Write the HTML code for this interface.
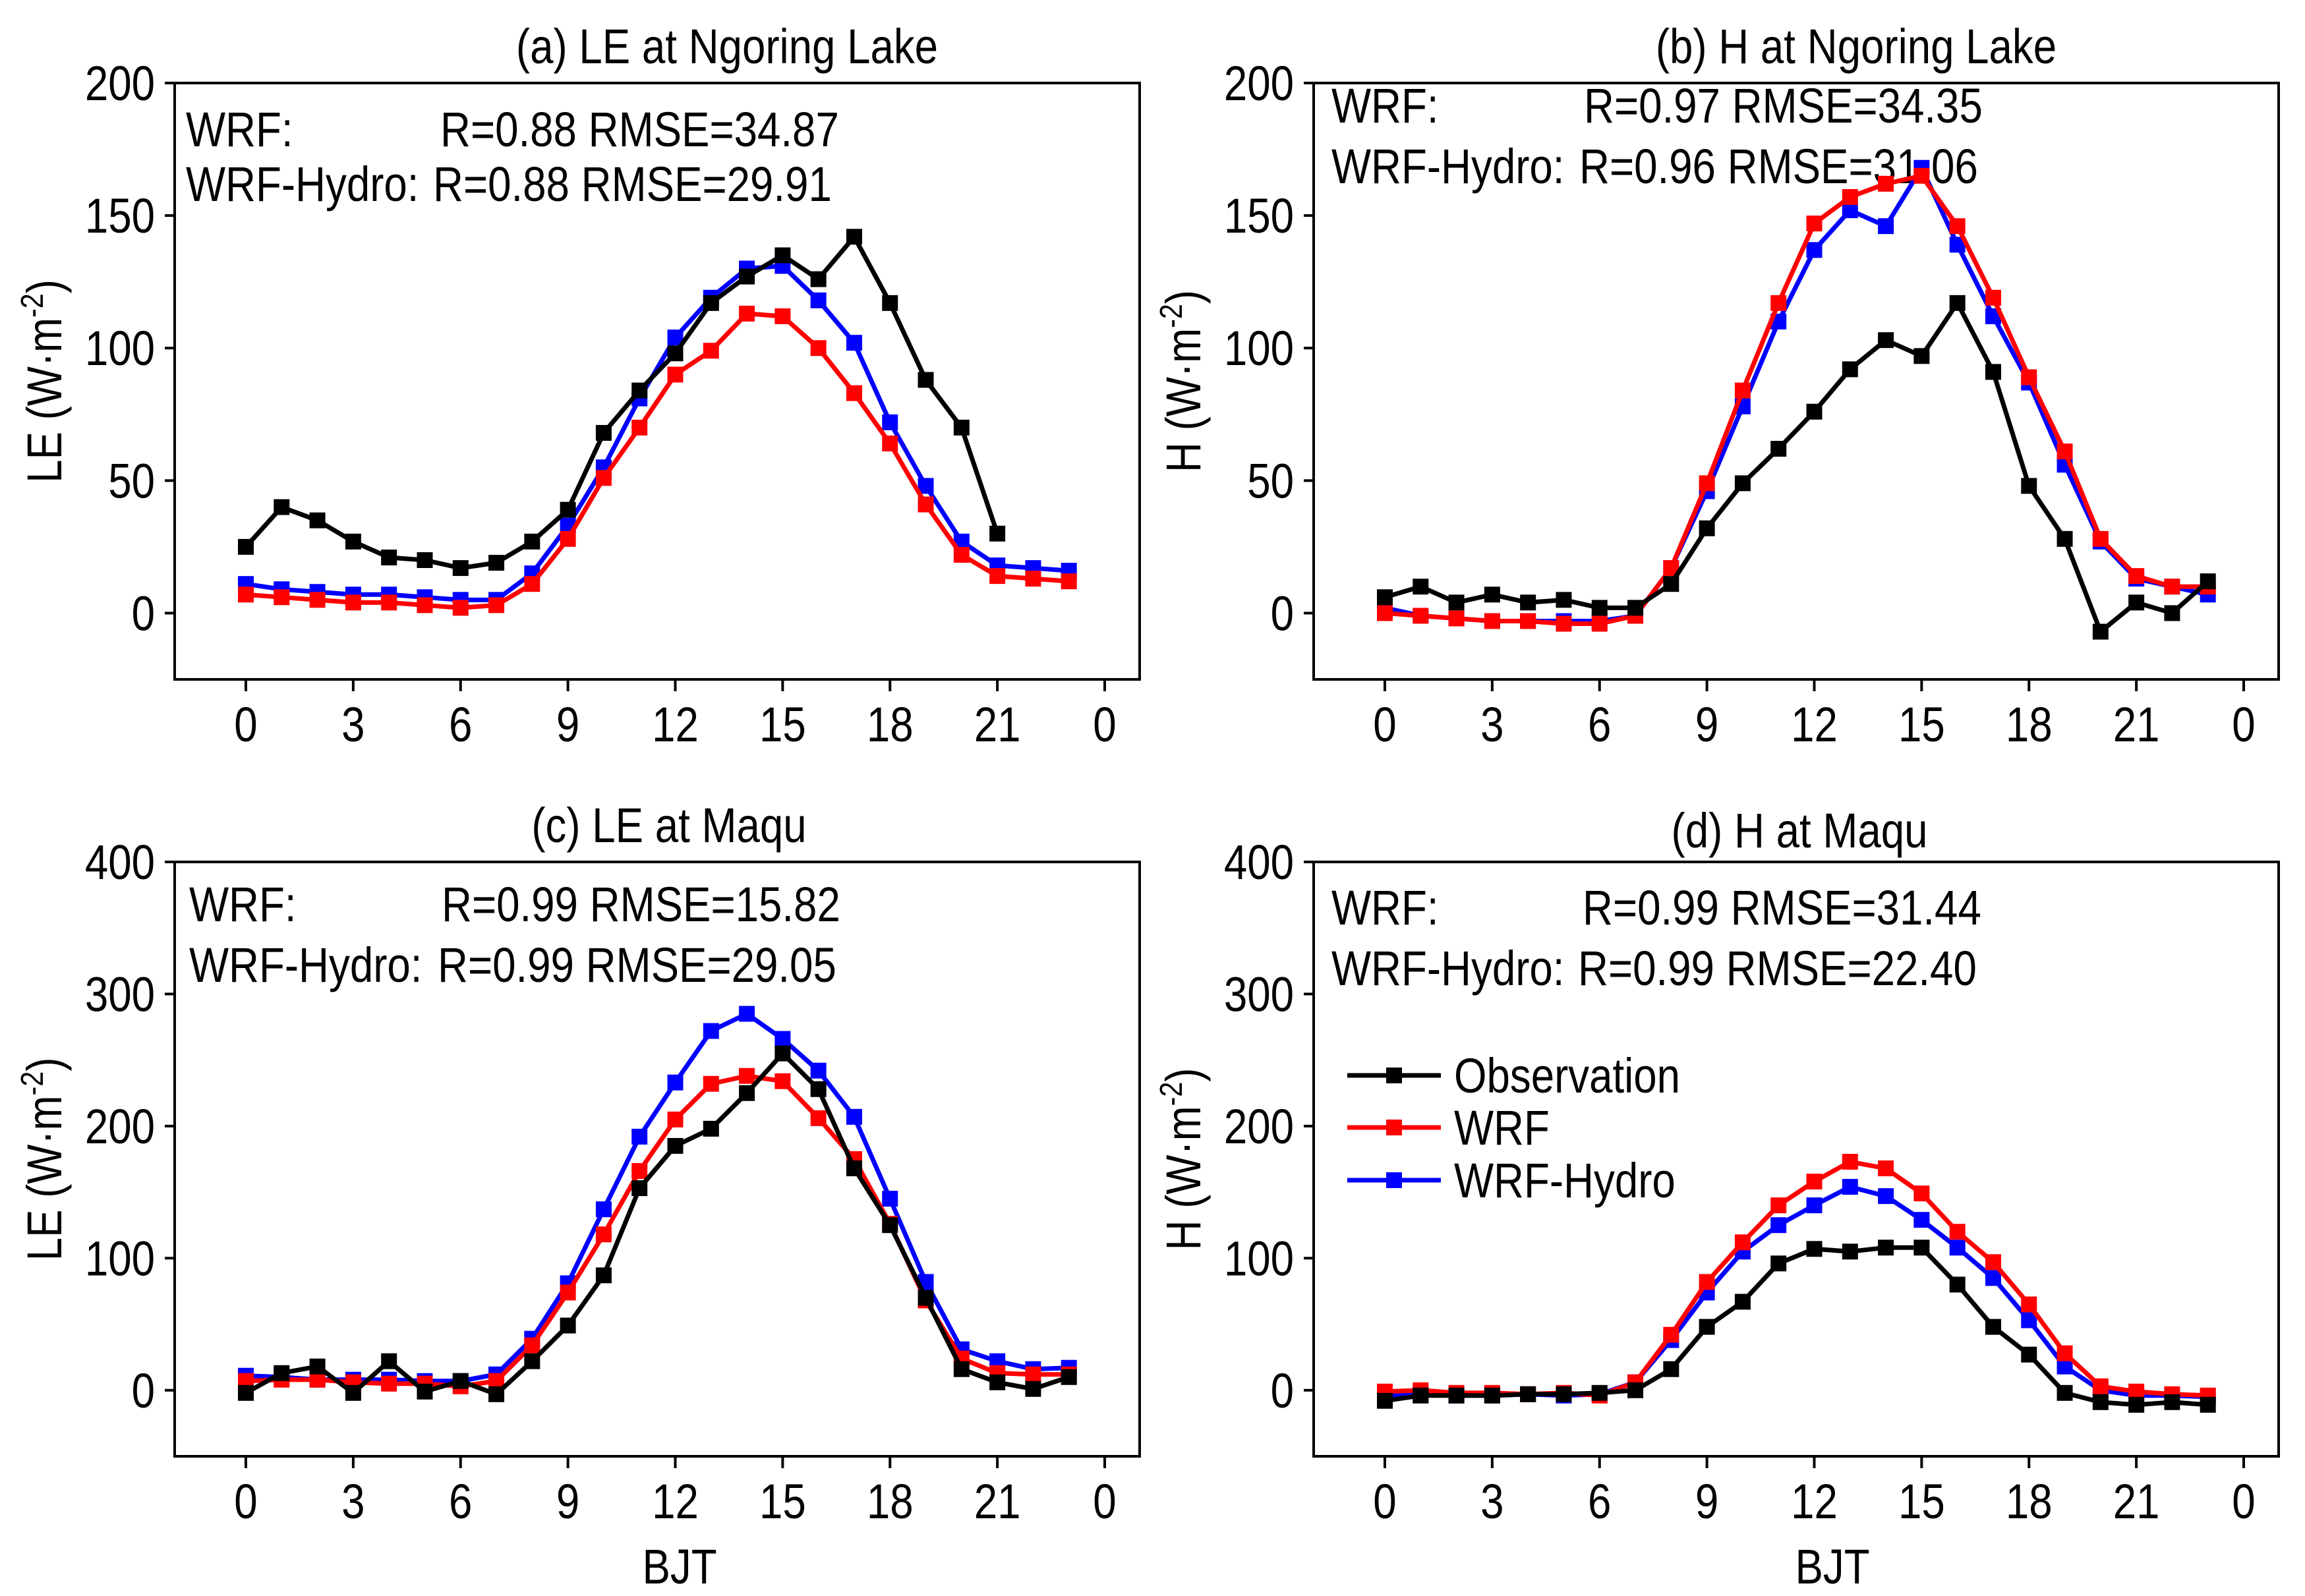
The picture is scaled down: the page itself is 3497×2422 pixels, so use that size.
<!DOCTYPE html>
<html><head><meta charset="utf-8"><style>
html,body{margin:0;padding:0;background:#fff;}
svg{display:block;font-family:"Liberation Sans",Arial,sans-serif;}
</style></head><body>
<svg id="chart" width="3497" height="2422" viewBox="0 0 3497 2422" xmlns="http://www.w3.org/2000/svg"></svg>
<script>
const hours = [0,1,2,3,4,5,6,7,8,9,10,11,12,13,14,15,16,17,18,19,20,21,22,23];
const xTickValues = [0,3,6,9,12,15,18,21,24];
const xTickLabels = ["0","3","6","9","12","15","18","21","0"];
const ticksAB = [0,50,100,150,200];
const ticksCD = [0,100,200,300,400];

const obsA = [25,40,35,27,21,20,17,19,27,39,68,84,98,117,127,135,126,142,117,88,70,30];
const wrfA = [7,6,5,4,4,3,2,3,11,28,51,70,90,99,113,112,100,83,64,41,22,14,13,12];
const hydA = [11,9,8,7,7,6,5,5,15,33,55,81,104,119,130,131,118,102,72,48,27,18,17,16];

const obsB = [6,10,4,7,4,5,2,2,11,32,49,62,76,92,103,97,117,91,48,28,-7,4,0,12];
const wrfB = [0,-1,-2,-3,-3,-4,-4,-1,17,49,84,117,147,157,162,165,146,119,89,61,28,14,10,10];
const hydB = [2,-1,-2,-3,-3,-3,-3,-1,17,46,78,110,137,152,146,168,139,112,87,56,27,13,10,7];

const obsC = [-2,13,18,-2,22,-1,7,-3,22,49,87,153,185,198,225,255,228,168,125,70,16,6,1,10];
const wrfC = [7,8,8,6,5,5,3,7,34,74,118,166,205,232,238,234,206,175,126,68,24,13,12,12];
const hydC = [11,10,8,8,8,7,7,12,39,81,137,192,233,272,285,266,242,207,145,82,31,22,16,17];

const obsD = [-8,-4,-4,-4,-3,-3,-2,0,16,48,67,96,107,105,108,108,80,48,27,-2,-9,-11,-9,-11];
const wrfD = [-1,0,-2,-2,-3,-2,-4,6,42,82,112,140,158,173,168,149,120,97,65,28,3,-1,-3,-4];
const hydD = [-4,-3,-4,-4,-3,-4,-3,6,38,74,105,125,140,154,147,129,108,85,53,18,0,-4,-4,-5];

const NS="http://www.w3.org/2000/svg";
const svg=document.getElementById('chart');
function mk(tag,attrs,parent){const e=document.createElementNS(NS,tag);for(const k in attrs)e.setAttribute(k,attrs[k]);(parent||svg).appendChild(e);return e;}
function txt(s,x,y,size,anchor,parent,extra){
  const a={x:0,y:0,'font-size':size,'text-anchor':anchor||'start',transform:'translate('+x+','+y+') '+(extra||'')+' scale(0.86,1)'};
  const e=mk('text',a,parent);e.textContent=s;return e;}

const panels=[
 {id:'a',left:265,right:1729,top:126,bottom:1031,x0:373,x24:1676,ymin:-25,ymax:200,ticks:ticksAB,obs:obsA,wrf:wrfA,hyd:hydA,
  title:'(a) LE at Ngoring Lake',tx:1103,ty:96,ylab:'LE',
  s1:['WRF:','R=0.88 RMSE=34.87'],s2:['WRF-Hydro:','R=0.88 RMSE=29.91'],sx:282,r1x:668,r2x:657,b1:222,b2:305},
 {id:'b',left:1993,right:3457,top:126,bottom:1031,x0:2101,x24:3404,ymin:-25,ymax:200,ticks:ticksAB,obs:obsB,wrf:wrfB,hyd:hydB,
  title:'(b) H at Ngoring Lake',tx:2816,ty:96,ylab:'H',
  s1:['WRF:','R=0.97 RMSE=34.35'],s2:['WRF-Hydro:','R=0.96 RMSE=31.06'],sx:2020,r1x:2403,r2x:2396,b1:186,b2:278},
 {id:'c',left:265,right:1729,top:1308,bottom:2210,x0:373,x24:1676,ymin:-50,ymax:400,ticks:ticksCD,obs:obsC,wrf:wrfC,hyd:hydC,
  title:'(c) LE at Maqu',tx:1015,ty:1278,ylab:'LE',
  s1:['WRF:','R=0.99 RMSE=15.82'],s2:['WRF-Hydro:','R=0.99 RMSE=29.05'],sx:287,r1x:670,r2x:664,b1:1398,b2:1490,bjt:1031},
 {id:'d',left:1993,right:3457,top:1308,bottom:2210,x0:2101,x24:3404,ymin:-50,ymax:400,ticks:ticksCD,obs:obsD,wrf:wrfD,hyd:hydD,
  title:'(d) H at Maqu',tx:2730,ty:1286,ylab:'H',
  s1:['WRF:','R=0.99 RMSE=31.44'],s2:['WRF-Hydro:','R=0.99 RMSE=22.40'],sx:2020,r1x:2401,r2x:2394,b1:1403,b2:1495,bjt:2780,legend:true}
];
const colors={obs:'#000000',wrf:'#ff0000',hyd:'#0000ff'};
const FS=74;

panels.forEach(p=>{
  const g=mk('g',{});
  
  
  const xs=h=>p.x0+(h/24)*(p.x24-p.x0);
  const ys=v=>p.bottom-(v-p.ymin)/(p.ymax-p.ymin)*(p.bottom-p.top);
  const fr=mk('rect',{x:p.left,y:p.top,width:p.right-p.left,height:p.bottom-p.top,fill:'none',stroke:'#000','stroke-width':4},g);
  
  
  p.ticks.forEach(t=>{
    const y=ys(t);
    mk('line',{x1:p.left-15,x2:p.left,y1:y,y2:y,stroke:'#000','stroke-width':4},g);
    const l=txt(String(t),p.left-30,y+26,FS,'end',g);
    
    
  });
  xTickValues.forEach((t,i)=>{
    const x=xs(t);
    mk('line',{x1:x,x2:x,y1:p.bottom,y2:p.bottom+18,stroke:'#000','stroke-width':4},g);
    const l=txt(xTickLabels[i],x,p.bottom+94,FS,'middle',g);
    
    
  });
  const tt=txt(p.title,p.tx,p.ty,FS,'middle',g);
  
  
  const cy=(p.top+p.bottom)/2;
  const yl=txt('',p.left-172,cy,FS,'middle',g,'rotate(-90)');
  
  
  yl.appendChild(document.createTextNode(p.ylab+' (W·m'));
  const sup=document.createElementNS(NS,'tspan');sup.setAttribute('dy',-28);sup.setAttribute('font-size',48);sup.textContent='-2';yl.appendChild(sup);
  const cl=document.createElementNS(NS,'tspan');cl.setAttribute('dy',28);cl.textContent=')';yl.appendChild(cl);
  [[p.s1,p.b1,p.r1x],[p.s2,p.b2,p.r2x]].forEach(([s,b,rx],k)=>{
    const a=txt(s[0],p.sx,b,FS,'start',g);
    
    
    const r=txt(s[1],rx,b,FS,'start',g);
    
    
  });
  [['hyd',p.hyd],['wrf',p.wrf],['obs',p.obs]].forEach(([k,arr])=>{
    const pts=arr.map((v,i)=>xs(hours[i])+','+ys(v)).join(' ');
    const pl=mk('polyline',{points:pts,fill:'none',stroke:colors[k],'stroke-width':7,'stroke-linejoin':'round'},g);
    
    
    arr.forEach((v,i)=>{
      const m=mk('rect',{x:xs(hours[i])-12,y:ys(v)-12,width:24,height:24,fill:colors[k]},g);
      
      
    });
  });
  if(p.bjt){
    const bl=txt('BJT',p.bjt,2403,FS,'middle',g);
    
    
  }
  if(p.legend){
    const lg=mk('g',{},g);
    
    
    [['obs','Observation',1632],['wrf','WRF',1711],['hyd','WRF-Hydro',1791]].forEach(([k,lab,y])=>{
      const e=mk('g',{},lg);
      
      
      mk('line',{x1:2044,x2:2186,y1:y,y2:y,stroke:colors[k],'stroke-width':7},e);
      mk('rect',{x:2103,y:y-12,width:24,height:24,fill:colors[k]},e);
      txt(lab,2206,y+26,FS,'start',e);
    });
  }
});
</script>
</body></html>
